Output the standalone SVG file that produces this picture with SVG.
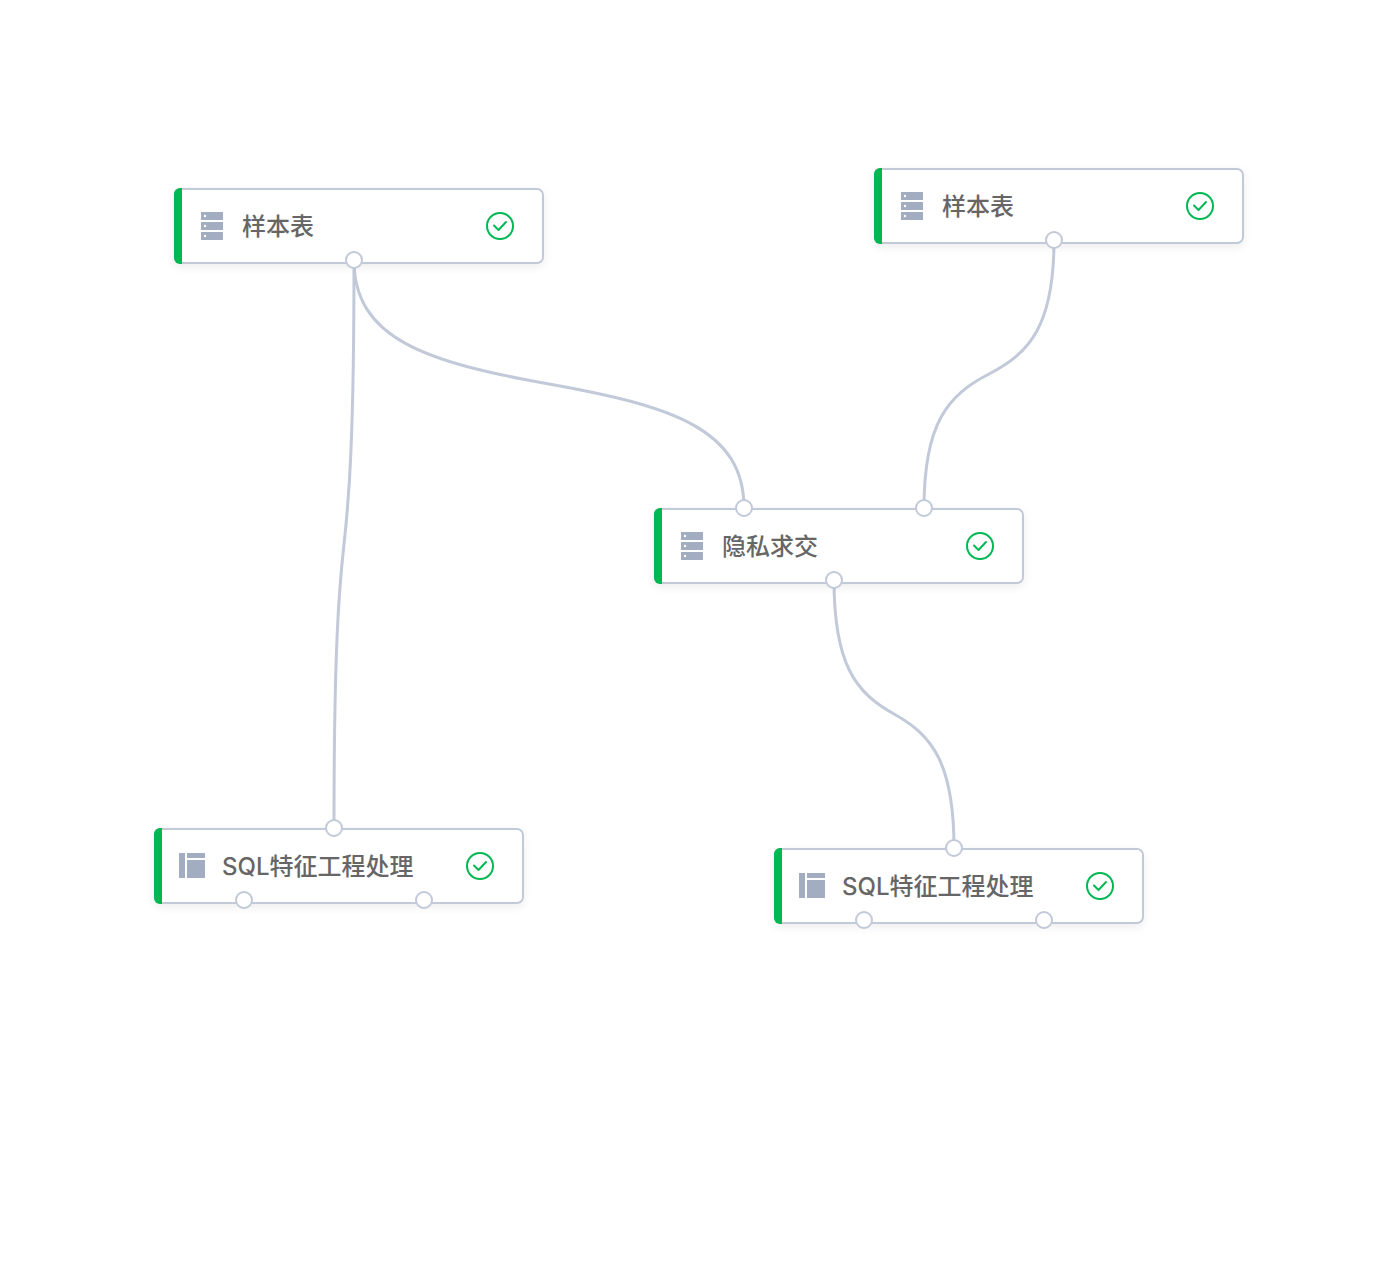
<svg xmlns="http://www.w3.org/2000/svg" width="1394" height="1276" viewBox="0 0 1394 1276">
<style>
.card{fill:#fff;stroke:#c2c9d8;stroke-width:2;filter:url(#sh)}
.bar{fill:#00b853}
.ic{fill:#a3adc2}
.dot{fill:#fff}
.label{font-family:"Inter","Noto Sans CJK SC","Noto Sans",sans-serif;font-size:24px;font-weight:500;fill:#666}
.ok{fill:none;stroke:#00b853;stroke-width:2;stroke-linecap:round;stroke-linejoin:round}
.port{fill:#fff;stroke:#c2c9d8;stroke-width:2}
.link{fill:none;stroke:#c2c9d8;stroke-width:3}
</style>
<defs>
<filter id="sh" x="-10%" y="-30%" width="120%" height="170%"><feDropShadow dx="0" dy="3" stdDeviation="4" flood-color="#000" flood-opacity="0.07"/></filter>
<g id="card"><rect class="card" x="1" y="1" width="368" height="74" rx="6"/><path class="bar" d="M6 0H8V76H6A6 6 0 0 1 0 70V6A6 6 0 0 1 6 0Z"/><g transform="translate(326 38)"><circle class="ok" r="13"/><path class="ok" d="M-6-.5L-1.500 4L6-4"/></g></g>
<g id="db"><rect class="ic" width="22" height="8"/><rect class="ic" y="10" width="22" height="8"/><rect class="ic" y="20" width="22" height="8"/><circle class="dot" cx="4" cy="4" r="1.200"/><circle class="dot" cx="4" cy="14" r="1.200"/><circle class="dot" cx="4" cy="24" r="1.200"/></g>
<g id="tb"><rect class="ic" width="6" height="25"/><rect class="ic" x="8" width="18" height="5"/><rect class="ic" x="8" y="7" width="18" height="18"/></g>
</defs>
<g id="connectors">
<path class="link" d="M354 260C354 339 426 362 549 384C672 406 744 429 744 508"/>
<path class="link" d="M354 260C354 440 349 499 344 544C339 589 334 648 334 828"/>
<path class="link" d="M1054 240C1054 325 1030 353 989 374C948 395 924 423 924 508"/>
<path class="link" d="M834 580C834 665 856 693 894 714C932 735 954 763 954 848"/>
</g>
<g id="node-sample-1" transform="translate(174 188)"><use href="#card"/><use href="#db" x="27" y="24"/><text class="label" x="68" y="47">样本表</text><circle class="port" cx="180" cy="72" r="8"/></g>
<g id="node-sample-2" transform="translate(874 168)"><use href="#card"/><use href="#db" x="27" y="24"/><text class="label" x="68" y="47">样本表</text><circle class="port" cx="180" cy="72" r="8"/></g>
<g id="node-psi" transform="translate(654 508)"><use href="#card"/><use href="#db" x="27" y="24"/><text class="label" x="68" y="47">隐私求交</text><circle class="port" cx="90" cy="0" r="8"/><circle class="port" cx="270" cy="0" r="8"/><circle class="port" cx="180" cy="72" r="8"/></g>
<g id="node-sql-1" transform="translate(154 828)"><use href="#card"/><use href="#tb" x="25" y="25"/><text class="label" x="68" y="47">SQL特征工程处理</text><circle class="port" cx="180" cy="0" r="8"/><circle class="port" cx="90" cy="72" r="8"/><circle class="port" cx="270" cy="72" r="8"/></g>
<g id="node-sql-2" transform="translate(774 848)"><use href="#card"/><use href="#tb" x="25" y="25"/><text class="label" x="68" y="47">SQL特征工程处理</text><circle class="port" cx="180" cy="0" r="8"/><circle class="port" cx="90" cy="72" r="8"/><circle class="port" cx="270" cy="72" r="8"/></g>
</svg>
